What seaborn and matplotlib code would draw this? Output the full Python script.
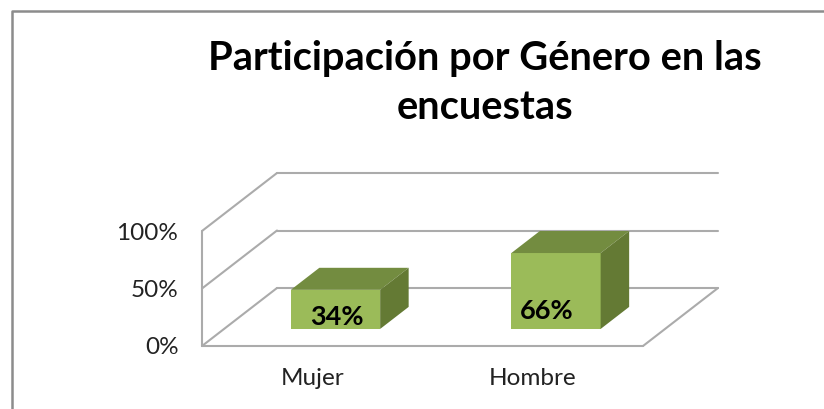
"""
Participación por Género - columnas con efecto 3D
"""
import pandas as pd
import matplotlib
matplotlib.use("Agg")
import matplotlib.pyplot as plt
from matplotlib.lines import Line2D
from matplotlib.patches import Polygon
import seaborn as sns

generos = ["Mujer", "Hombre"]
valores = [0.34, 0.66]
etiquetas = ["34%", "66%"]
ticks_y = [0, 0.5, 1]
ticks_y_txt = ["0%", "50%", "100%"]
titulo = "Participación por Género en las\nencuestas"

W, H = 824, 409
VERDE = "#9BBB59"
VERDE_TOP = "#738C40"
VERDE_LADO = "#647A34"
GRIS = "#ABABAB"

sns.set_theme(style="white")
plt.rcParams["font.family"] = ["Lato", "DejaVu Sans"]

fig = plt.figure(figsize=(W / 100, H / 100), dpi=100)
ax = fig.add_axes([202 / W, (H - 346) / H, 441 / W, 115 / H])

df = pd.DataFrame({"genero": generos, "valor": valores})
sns.barplot(data=df, x="genero", y="valor", color=VERDE, saturation=1, width=0.405, ax=ax, zorder=3,
            edgecolor="none", linewidth=0)
ax.set_xlim(-0.5, 1.5)
ax.set_ylim(0, 1)

# profundidad del piso en unidades de datos
dx = 75 / 441 * 2
dy = 58 / 115


def linea(xs, ys):
    ax.add_line(Line2D(xs, ys, color=GRIS, lw=1.5, clip_on=False, zorder=1))


x0, x1 = ax.get_xlim()
for t in ticks_y:
    linea([x0, x0 + dx], [t, t + dy])
    linea([x0 + dx, x1 + dx], [t + dy, t + dy])
linea([x0, x0], [0, 1])
linea([x0, x1], [0, 0])
linea([x1, x1 + dx], [0, dy])

# caras de las columnas
t_ini, t_prof = 0.31, 0.38
for barra, etiqueta, alto_txt in zip(ax.containers[0], etiquetas, [0.10, 0.155]):
    x = barra.get_x() + t_ini * dx
    w = barra.get_width()
    h = barra.get_height()
    y = t_ini * dy - 0.008
    barra.set_x(x)
    barra.set_y(y)
    barra.set_clip_on(False)
    ox, oy = t_prof * dx, t_prof * dy
    ax.add_patch(Polygon([(x, y + h), (x + w, y + h), (x + w + ox, y + h + oy), (x + ox, y + h + oy)],
                         facecolor=VERDE_TOP, edgecolor="none", clip_on=False, zorder=3))
    ax.add_patch(Polygon([(x + w, y), (x + w + ox, y + oy), (x + w + ox, y + h + oy), (x + w, y + h)],
                         facecolor=VERDE_LADO, edgecolor="none", clip_on=False, zorder=3))
    desp = 0.005 if etiqueta == "34%" else -0.04
    ax.text(x + w / 2 + desp, y + alto_txt, etiqueta, ha="center", va="center", fontsize=19.5,
            fontweight="bold", color="black", zorder=5)

ax.set_xlabel("")
ax.set_ylabel("")
ax.set_yticks(ticks_y)
ax.set_yticklabels(ticks_y_txt, fontsize=17.5, color="#222222")
ax.tick_params(axis="y", length=0, pad=17)
ax.tick_params(axis="x", length=0, pad=16, labelsize=17.5, labelcolor="#222222")
sns.despine(ax=ax, left=True, bottom=True)
ax.patch.set_alpha(0)

fig.text(485 / W, 1 - 83 / H, titulo, ha="center", va="center", fontsize=28.7, fontweight="bold",
         color="black", linespacing=1.38)

# marco del gráfico (solo arriba e izquierda)
fig.add_artist(Line2D([12 / W, 12 / W, 1], [0, 1 - 10.5 / H, 1 - 10.5 / H], color="#8C8C8C", lw=1.8))

plt.savefig("out.png", dpi=100)
plt.close()
